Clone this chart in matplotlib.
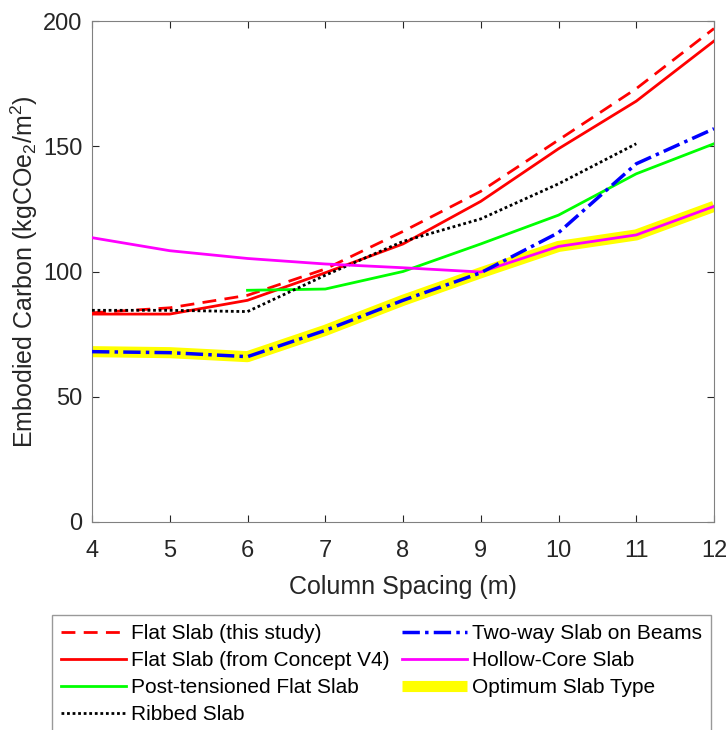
import matplotlib.pyplot as plt
import numpy as np

plt.rcParams['font.family'] = ['Liberation Sans', 'DejaVu Sans']
plt.rcParams['mathtext.fontset'] = 'custom'
plt.rcParams['mathtext.rm'] = 'Liberation Sans'
plt.rcParams['mathtext.it'] = 'Liberation Sans:italic'

spacing = [4, 5, 6, 7, 8, 9, 10, 11, 12]
flat_this_study = [83.5, 85.5, 90.5, 101, 116, 132, 152.5, 173, 197]
flat_concept_v4 = [83, 83, 88.5, 99.5, 111, 128, 149, 168, 192]
pt_spacing = [6, 7, 8, 9, 10, 11, 12]
post_tensioned = [92.5, 93, 100, 111, 122.5, 139, 151]
ribbed_spacing = [4, 5, 6, 7, 8, 9, 10, 11]
ribbed = [84.5, 84.5, 84, 98.5, 112, 121, 135, 151]
two_way = [68, 67.6, 66, 76.5, 88.5, 99.5, 115.5, 143, 157]
hollow_core = [113.5, 108.3, 105.2, 103, 101.5, 99.8, 110, 114.6, 126]
optimum = [68, 67.6, 66, 76.5, 88.5, 99.5, 110, 114.6, 126]

fig = plt.figure(figsize=(7.26, 7.30), dpi=100)
ax = fig.add_axes([92/726, 1-522/730, (714-92)/726, (522-21)/730])

ax.plot(spacing, flat_this_study, color='#ff0000', lw=2, ls=(0, (5, 3)), label='Flat Slab (this study)', zorder=3)
ax.plot(spacing, flat_concept_v4, color='#ff0000', lw=2, label='Flat Slab (from Concept V4)', zorder=3)
ax.plot(pt_spacing, post_tensioned, color='#00ff00', lw=2, label='Post-tensioned Flat Slab', zorder=3)
ax.plot(ribbed_spacing, ribbed, color='black', lw=2, ls=(0, (1, 1)), label='Ribbed Slab', zorder=3)
ax.plot(spacing, two_way, color='#0000ff', lw=2.5, ls=(0, (5, 1.5, 1, 1.5)), label='Two-way Slab on Beams', zorder=4)
ax.plot(spacing, hollow_core, color='#ff00ff', lw=2, label='Hollow-Core Slab', zorder=3)
ax.plot(spacing, optimum, color='#ffff00', lw=8, label='Optimum Slab Type', zorder=2, solid_capstyle='butt')

ax.set_xlim(4, 12)
ax.set_ylim(0, 200)
ax.set_xticks(spacing)
ax.set_yticks([0, 50, 100, 150, 200])
ax.tick_params(direction='in', top=True, right=True, length=5, labelsize=17, colors='#262626')
ax.tick_params(axis='x', pad=13)
ax.tick_params(axis='y', pad=7)
for s in ax.spines.values():
    s.set_color('#808080')
ax.set_xlabel('Column Spacing (m)', fontsize=18, color='#262626', labelpad=9)
ax.set_ylabel('Embodied Carbon (kgCOe$_2$/m$^2$)', fontsize=18, color='#262626', labelpad=2)

h, l = ax.get_legend_handles_labels()
leg = fig.legend(h, l, ncol=2, loc='upper left',
                 bbox_to_anchor=(52/726, 1-615/730),
                 fontsize=15, frameon=True, fancybox=False, edgecolor='#808080',
                 handlelength=3.1, handletextpad=0.25, labelspacing=0.38, borderpad=0.45,
                 columnspacing=0.6, borderaxespad=0)
leg.get_frame().set_linewidth(1)

fig.savefig('out.png', dpi=100)
